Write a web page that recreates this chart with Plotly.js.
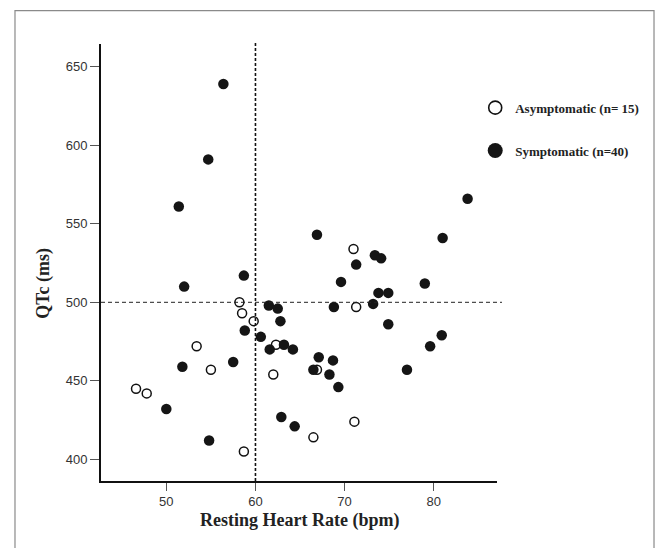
<!DOCTYPE html>
<html>
<head>
<meta charset="utf-8">
<script src="https://cdn.plot.ly/plotly-3.0.1.min.js"></script>
<style>
html,body{margin:0;padding:0;background:#fff;}
#chart{width:659px;height:548px;}
</style>
</head>
<body>
<div id="chart"></div>
<script>
// Symptomatic (n=40)
var symptomaticHR = [56.4,54.7,51.4,83.8,66.9,81.0,73.4,74.1,71.3,58.7,52.0,69.6,79.0,73.8,74.9,73.2,61.5,62.5,68.8,62.8,74.9,58.8,60.6,80.9,63.2,64.2,61.6,79.6,67.1,68.7,57.5,51.8,66.5,77.0,68.3,69.3,50.0,62.9,64.4,54.8];
var symptomaticQTc = [639,591,561,566,543,541,530,528,524,517,510,513,512,506,506,499,498,496,497,488,486,482,478,479,473,470,470,472,465,463,462,459,457,457,454,446,432,427,421,412];
// Asymptomatic (n=15)
var asymptomaticHR = [71.0,71.3,58.2,58.5,59.8,53.4,62.3,55.0,66.9,62.0,46.6,47.8,71.1,66.5,58.7];
var asymptomaticQTc = [534,497,500,493,488,472,473,457,457,454,445,442,424,414,405];

var seriesNames = ['Asymptomatic (n= 15)', 'Symptomatic (n=40)'];
var xTitle = 'Resting Heart Rate (bpm)';
var yTitle = 'QTc (ms)';
var xTicks = [50,60,70,80];
var yTicks = [400,450,500,550,600,650];
var hrCutoff = 60;
var qtcCutoff = 500;

var serif = 'Liberation Serif, Times New Roman, serif';
var sans = 'Liberation Sans, Arial, sans-serif';

var openMarker = {size: 9, color: '#ffffff', line: {color: '#111111', width: 1.5}};
var filledMarker = {size: 10.5, color: '#151515', line: {width: 0}};

var traces = [
  {
    x: asymptomaticHR, y: asymptomaticQTc, type: 'scatter', mode: 'markers',
    name: seriesNames[0], showlegend: false, marker: openMarker
  },
  {
    x: symptomaticHR, y: symptomaticQTc, type: 'scatter', mode: 'markers',
    name: seriesNames[1], showlegend: false, marker: filledMarker
  },
  // legend-only entries (larger key symbols, as in the original figure)
  {
    x: [null], y: [null], type: 'scatter', mode: 'markers', name: seriesNames[0],
    legendgroup: 'a', showlegend: true,
    marker: {size: 13, color: '#ffffff', line: {color: '#111111', width: 1.6}}
  },
  {
    x: [null], y: [null], type: 'scatter', mode: 'markers', name: seriesNames[1],
    legendgroup: 's', showlegend: true,
    marker: {size: 15, color: '#151515', line: {width: 0}}
  }
];

var layout = {
  width: 659, height: 548,
  margin: {l: 101, r: 162, t: 44, b: 67, pad: 0},
  paper_bgcolor: '#ffffff', plot_bgcolor: '#ffffff',
  showlegend: true,
  legend: {
    x: 0.945, xanchor: 'left', y: 0.8886, yanchor: 'top',
    font: {family: serif, size: 13, color: '#222222', weight: 'bold'},
    tracegroupgap: 23, traceorder: 'grouped',
    bgcolor: 'rgba(0,0,0,0)', borderwidth: 0, itemwidth: 30
  },
  xaxis: {
    range: [42.67, 87.1], tickvals: xTicks, ticktext: xTicks.map(String),
    showgrid: false, zeroline: false, showline: true, linecolor: '#111111', linewidth: 2,
    ticks: 'outside', ticklen: 8, tickcolor: '#555555', tickwidth: 1.2,
    ticklabelstandoff: -1,
    tickfont: {family: sans, size: 13, color: '#333333'}
  },
  yaxis: {
    range: [386.2, 664.5], tickvals: yTicks, ticktext: yTicks.map(String),
    showgrid: false, zeroline: false, showline: true, linecolor: '#111111', linewidth: 2,
    ticks: 'outside', ticklen: 9, tickcolor: '#555555', tickwidth: 1.2,
    tickfont: {family: sans, size: 13, color: '#333333'}
  },
  annotations: [
    {text: '<b>' + xTitle + '</b>', xref: 'paper', yref: 'paper', x: 0.5, y: -0.0618,
     xanchor: 'center', yanchor: 'top', showarrow: false,
     font: {family: serif, size: 18, color: '#222222'}},
    {text: '<b>' + yTitle + '</b>', xref: 'paper', yref: 'paper', x: -0.1457, y: 0.4519,
     xanchor: 'center', yanchor: 'middle', showarrow: false, textangle: -90,
     font: {family: serif, size: 18, color: '#222222'}}
  ],
  shapes: [
    {type: 'line', xref: 'x', yref: 'paper', x0: hrCutoff, x1: hrCutoff, y0: 0, y1: 1.005,
     line: {color: '#111111', width: 1.6, dash: '3px,2px'}},
    {type: 'line', xref: 'paper', yref: 'y', x0: 0, x1: 1.0126, y0: qtcCutoff, y1: qtcCutoff,
     line: {color: '#222222', width: 1, dash: '4px,3px'}},
    {type: 'rect', xref: 'paper', yref: 'paper', x0: -0.2172, x1: 1.3965, y0: -0.2, y1: 1.0762,
     line: {color: '#8a8a8a', width: 1.2}, fillcolor: 'rgba(0,0,0,0)', layer: 'below'}
  ]
};

Plotly.newPlot('chart', traces, layout, {displayModeBar: false, staticPlot: true});
</script>
</body>
</html>
